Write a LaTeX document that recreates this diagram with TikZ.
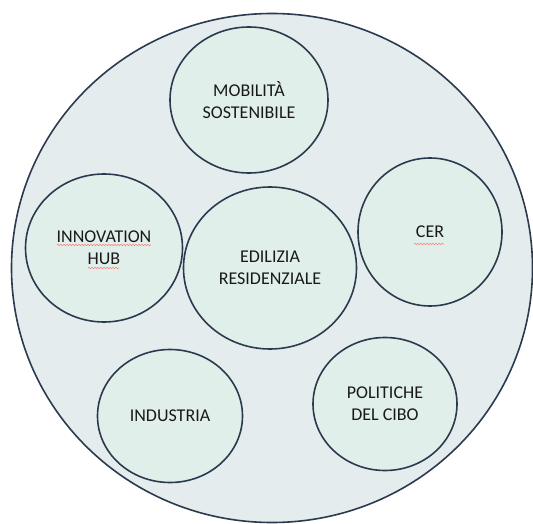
\documentclass[tikz,border=0pt]{standalone}
\usepackage{fontspec}
\setmainfont{Carlito}
\usetikzlibrary{shapes.geometric,decorations.pathmorphing}
\definecolor{bordo}{HTML}{2B3A4E}
\definecolor{sfondo}{HTML}{E4ECEE}
\definecolor{verdino}{HTML}{E1EFEA}

\begin{document}
\begin{tikzpicture}[x=1pt, y=-1pt, line width=1.6pt,
  bolla/.style={ellipse, draw=bordo, fill=verdino, inner sep=0pt, align=center,
    text=black!90, font=\fontsize{18}{22}\selectfont},
  ondina/.style={draw=red!50, line width=0.6pt, decorate,
    decoration={snake, amplitude=0.7pt, segment length=3pt}}]
  \useasboundingbox (0,0) rectangle (533,524);

  % cerchio esterno
  \node[ellipse, draw=bordo, fill=sfondo, minimum width=521pt, minimum height=509pt] (cerchio) at (272,268) {};

  \node[bolla, minimum width=158pt, minimum height=146pt] (mobilita) at (249,100) {MOBILITÀ\\SOSTENIBILE};
  \node[bolla, minimum width=157pt, minimum height=148pt] (innovazione) at (104,248) {INNOVATION\\HUB};
  \node[bolla, minimum width=173pt, minimum height=162pt] (edilizia) at (270,268) {EDILIZIA\\RESIDENZIALE};
  \node[bolla, minimum width=144pt, minimum height=148pt] (cer) at (430,232) {CER};
  \node[bolla, minimum width=145pt, minimum height=133pt] (industria) at (170,416) {INDUSTRIA};
  \node[bolla, minimum width=144pt, minimum height=133pt] (cibo) at (385,404) {POLITICHE\\DEL CIBO};

  % sottolineature del correttore
  \draw[ondina] (57,245) -- (151,245);
  \draw[ondina] (88,268) -- (119,268);
  \draw[ondina] (414,244) -- (444,244);
\end{tikzpicture}
\end{document}
